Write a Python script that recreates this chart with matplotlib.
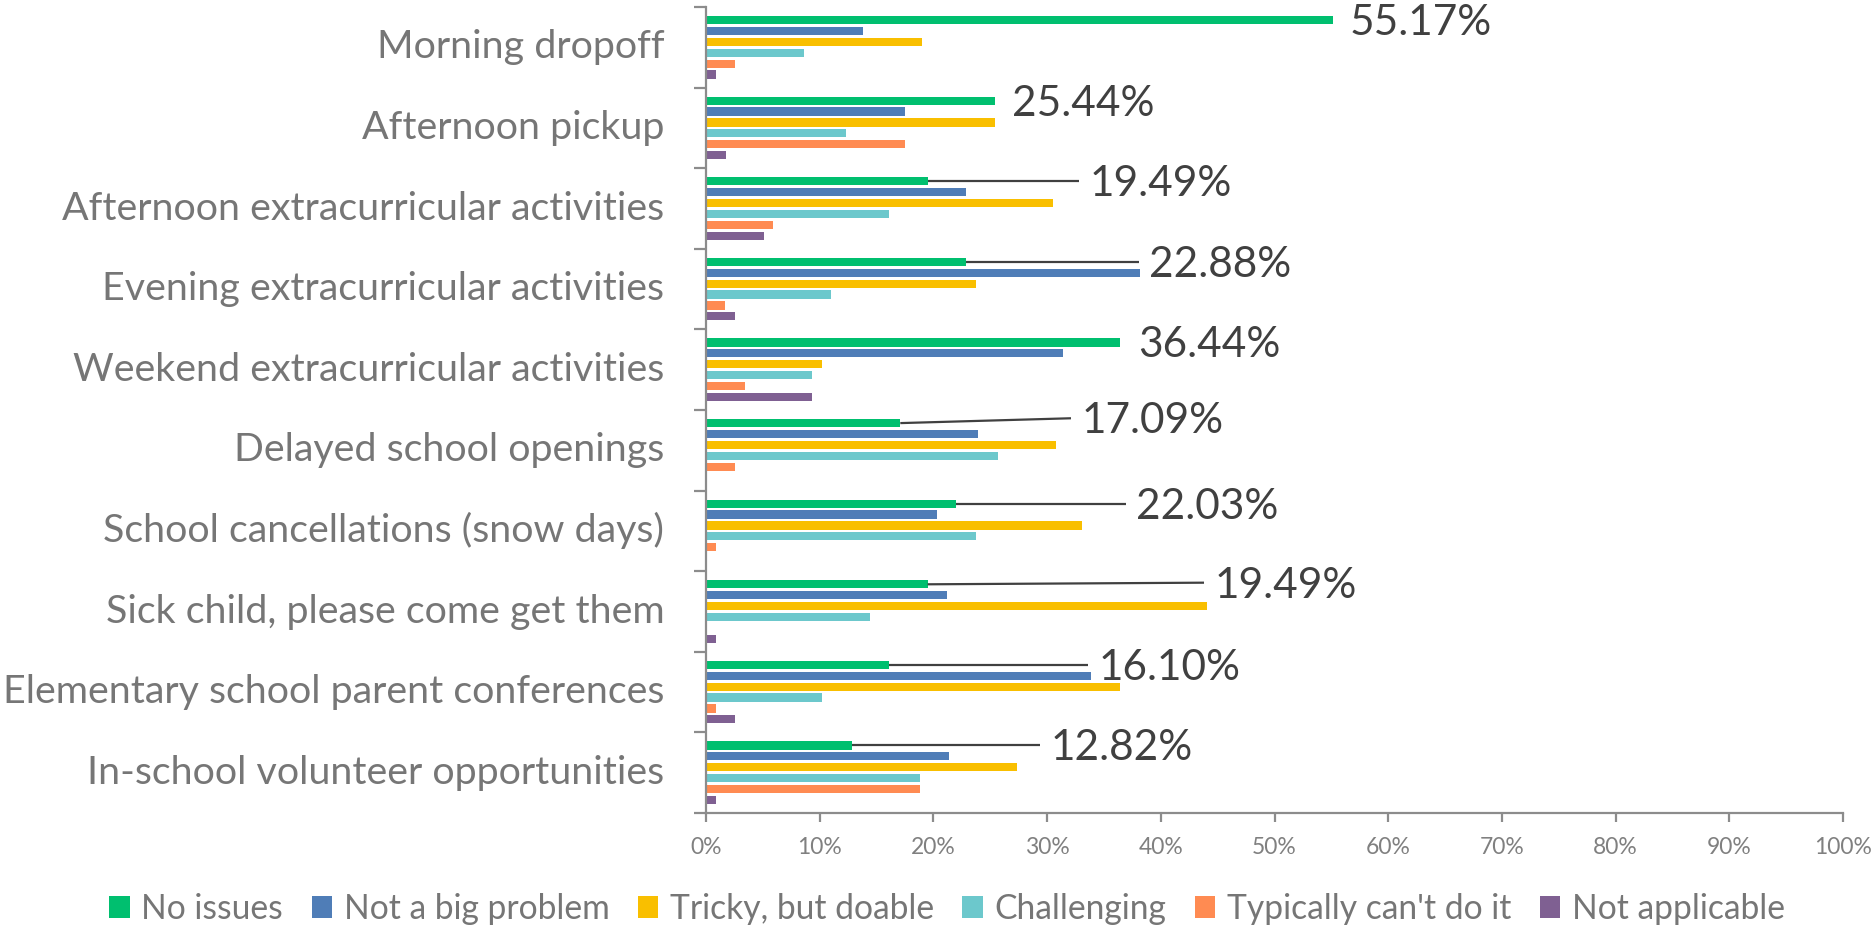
import matplotlib
matplotlib.use("Agg")
import matplotlib.pyplot as plt
from matplotlib.patches import Patch
import numpy as np

# ---------------- data ----------------
categories = [
    "Morning dropoff",
    "Afternoon pickup",
    "Afternoon extracurricular activities",
    "Evening extracurricular activities",
    "Weekend extracurricular activities",
    "Delayed school openings",
    "School cancellations (snow days)",
    "Sick child, please come get them",
    "Elementary school parent conferences",
    "In-school volunteer opportunities",
]
series_names = ["No issues", "Not a big problem", "Tricky, but doable",
                "Challenging", "Typically can't do it", "Not applicable"]

no_issues = [55.17, 25.44, 19.49, 22.88, 36.44, 17.09, 22.03, 19.49, 16.10, 12.82]
not_big_problem = [13.79, 17.54, 22.88, 38.14, 31.36, 23.93, 20.34, 21.19, 33.90, 21.37]
tricky_doable = [18.97, 25.44, 30.51, 23.73, 10.17, 30.77, 33.05, 44.07, 36.44, 27.35]
challenging = [8.62, 12.28, 16.10, 11.02, 9.32, 25.64, 23.73, 14.41, 10.17, 18.80]
cant_do = [2.59, 17.54, 5.93, 1.69, 3.39, 2.56, 0.85, 0.00, 0.85, 18.80]
not_applicable = [0.86, 1.75, 5.08, 2.54, 9.32, 0.00, 0.00, 0.85, 2.54, 0.85]

x_ticks = [0, 10, 20, 30, 40, 50, 60, 70, 80, 90, 100]
x_tick_labels = ["0%", "10%", "20%", "30%", "40%", "50%", "60%", "70%", "80%", "90%", "100%"]

# ---------------- layout / style ----------------
colors = ["#00BF6F", "#4F7DB7", "#F9BF00", "#6CC8CC", "#FF8B52", "#7F6092"]
# data-label placement (x in % units, as dragged in the original chart)
label_x = [56.6, 26.9, 33.7, 39.0, 38.0, 33.0, 37.8, 44.7, 34.5, 30.3]
label_dy = [0, 0, 0, 0, 0, -0.06, 0, -0.02, 0, 0]

FONT = ["Lato", "DejaVu Sans"]
plt.rcParams["font.family"] = FONT

W, H = 1874, 930
fig = plt.figure(figsize=(W / 100, H / 100), dpi=100)
x0, x1 = 706, 1843
y_top, y_bot = 7, 813
ax = fig.add_axes([x0 / W, (H - y_bot) / H, (x1 - x0) / W, (y_bot - y_top) / H])

all_series = [no_issues, not_big_problem, tricky_doable, challenging, cant_do, not_applicable]
n_cat = len(categories)
y = np.arange(n_cat)
pitch = 0.135
bar_h = 0.102
for i, (vals, col, name) in enumerate(zip(all_series, colors, series_names)):
    ax.barh(y + (i - 2.5) * pitch, vals, height=bar_h, color=col, label=name,
            edgecolor="none", zorder=2)

ax.set_xlim(0, 100)
ax.set_ylim(n_cat - 0.5, -0.5)

# data labels for the "No issues" series with leader lines
green_y = y + (0 - 2.5) * pitch
for j, v in enumerate(no_issues):
    lx = label_x[j]
    ly = green_y[j] + label_dy[j]
    if lx - v > 3:
        ax.plot([v, lx - 0.9], [green_y[j], ly], color="#404040", lw=1.6,
                zorder=3, solid_capstyle="butt")
    ax.text(lx, ly + 0.035, f"{v:.2f}%", fontsize=30.5, color="#404040",
            va="center", ha="left", zorder=4)

# axes styling
for s in ["top", "right"]:
    ax.spines[s].set_visible(False)
spine_col = "#8C8C8C"
for s in ["left", "bottom"]:
    ax.spines[s].set_color(spine_col)
    ax.spines[s].set_linewidth(1.6)

ax.set_xticks(x_ticks)
ax.set_xticklabels(x_tick_labels)
ax.tick_params(axis="x", direction="out", length=6.5, width=1.6, color=spine_col,
               labelsize=16.5, labelcolor="#808080", pad=11)

ax.set_yticks(y)
ax.set_yticklabels(categories, va="center")
ax.set_yticks(np.arange(n_cat + 1) - 0.5, minor=True)
ax.tick_params(axis="y", which="major", length=0, labelsize=28.4,
               labelcolor="#767676", pad=30)
ax.tick_params(axis="y", which="minor", direction="out", length=8.5, width=1.6,
               color=spine_col)

# legend
handles = [Patch(facecolor=c, edgecolor="none", label=n) for c, n in zip(colors, series_names)]
leg = fig.legend(handles=handles, loc="center", bbox_to_anchor=(947 / W, (H - 909) / H),
                 ncol=6, frameon=False, fontsize=24.2, labelcolor="#767676",
                 handlelength=0.6, handleheight=0.6, handletextpad=0.35,
                 columnspacing=0.85, borderpad=0, borderaxespad=0)

fig.savefig("out.png", dpi=100)
